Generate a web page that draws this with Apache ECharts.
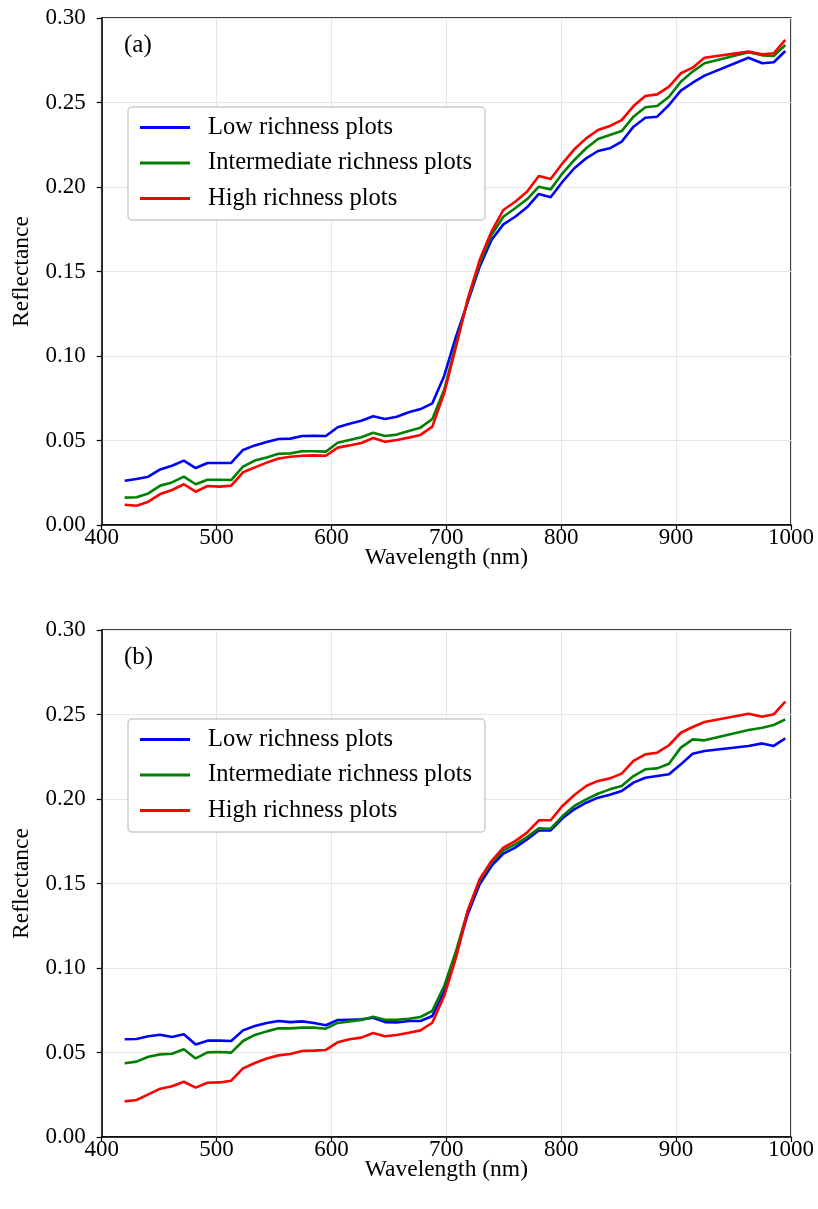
<!DOCTYPE html>
<html lang="en">
<head>
    <meta charset="UTF-8">
    <title>Reflectance by richness</title>
    <script src="https://cdn.jsdelivr.net/npm/echarts@6/dist/echarts.min.js"></script>
    <style>
        html, body { margin: 0; padding: 0; background: #fff; }
        #main { width: 818px; height: 1209px; }
    </style>
</head>
<body>
<div id="main"></div>
<script>
    // wavelengths (nm)
    var wavelength = [420, 430.3, 440.6, 450.9, 461.2, 471.5, 481.8, 492.1, 502.4, 512.7,
        523, 533.3, 543.6, 553.9, 564.2, 574.5, 584.8, 595.1, 605.4, 615.7,
        626, 636.3, 646.6, 656.9, 667.2, 677.5, 687.8, 698.1, 708.4, 718.7,
        729, 739.3, 749.6, 759.9, 770.2, 780.5, 790.8, 801.1, 811.4, 821.7,
        832, 842.3, 852.6, 862.9, 873.2, 883.5, 893.8, 904.1, 914.4, 924.7,
        963, 975, 985, 995];

    var seriesNames = ['Low richness plots', 'Intermediate richness plots', 'High richness plots'];
    var seriesColors = ['#0000ff', '#008000', '#ff0000'];

    // panel (a)
    var lowA = [0.0262, 0.0272, 0.0286, 0.0329, 0.0351, 0.0381, 0.0337, 0.0367, 0.0367, 0.0367,
        0.0444, 0.0471, 0.0491, 0.0509, 0.0511, 0.0527, 0.0528, 0.0527, 0.0578, 0.0599,
        0.0617, 0.0643, 0.0627, 0.0641, 0.0667, 0.0686, 0.0720, 0.0882, 0.1114, 0.1320,
        0.1528, 0.1686, 0.1779, 0.1824, 0.1880, 0.1959, 0.1939, 0.2031, 0.2111, 0.2170,
        0.2213, 0.2229, 0.2268, 0.2357, 0.2410, 0.2416, 0.2485, 0.2570, 0.2617, 0.2659,
        0.2765, 0.2732, 0.2738, 0.2805];
    var midA = [0.0162, 0.0164, 0.0187, 0.0233, 0.0252, 0.0286, 0.0241, 0.0268, 0.0268, 0.0266,
        0.0345, 0.0381, 0.0400, 0.0422, 0.0424, 0.0436, 0.0436, 0.0434, 0.0487, 0.0503,
        0.0519, 0.0546, 0.0527, 0.0535, 0.0556, 0.0576, 0.0627, 0.0800, 0.1070, 0.1330,
        0.1548, 0.1716, 0.1824, 0.1874, 0.1927, 0.2002, 0.1986, 0.2081, 0.2160, 0.2229,
        0.2284, 0.2308, 0.2331, 0.2416, 0.2472, 0.2479, 0.2534, 0.2623, 0.2683, 0.2732,
        0.2797, 0.2779, 0.2775, 0.2840];
    var highA = [0.0120, 0.0114, 0.0138, 0.0183, 0.0207, 0.0241, 0.0197, 0.0231, 0.0227, 0.0233,
        0.0312, 0.0341, 0.0369, 0.0394, 0.0404, 0.0410, 0.0412, 0.0410, 0.0458, 0.0471,
        0.0485, 0.0515, 0.0493, 0.0503, 0.0517, 0.0533, 0.0582, 0.0780, 0.1055, 0.1340,
        0.1568, 0.1736, 0.1864, 0.1913, 0.1972, 0.2065, 0.2047, 0.2140, 0.2223, 0.2288,
        0.2337, 0.2361, 0.2396, 0.2479, 0.2538, 0.2548, 0.2594, 0.2673, 0.2706, 0.2765,
        0.2801, 0.2785, 0.2791, 0.2870];

    // panel (b)
    var lowB = [0.0578, 0.0580, 0.0596, 0.0605, 0.0592, 0.0608, 0.0548, 0.0570, 0.0570, 0.0568,
        0.0631, 0.0657, 0.0675, 0.0686, 0.0680, 0.0684, 0.0675, 0.0661, 0.0692, 0.0694,
        0.0696, 0.0706, 0.0680, 0.0678, 0.0686, 0.0686, 0.0716, 0.0864, 0.1081, 0.1320,
        0.1495, 0.1604, 0.1677, 0.1712, 0.1761, 0.1814, 0.1814, 0.1886, 0.1939, 0.1978,
        0.2008, 0.2025, 0.2047, 0.2097, 0.2126, 0.2136, 0.2146, 0.2205, 0.2268, 0.2284,
        0.2314, 0.2329, 0.2314, 0.2359];
    var midB = [0.0436, 0.0446, 0.0475, 0.0489, 0.0493, 0.0519, 0.0465, 0.0501, 0.0503, 0.0499,
        0.0568, 0.0604, 0.0625, 0.0643, 0.0643, 0.0647, 0.0647, 0.0641, 0.0675, 0.0684,
        0.0692, 0.0712, 0.0694, 0.0694, 0.0700, 0.0710, 0.0746, 0.0893, 0.1100, 0.1340,
        0.1515, 0.1623, 0.1696, 0.1732, 0.1775, 0.1826, 0.1824, 0.1899, 0.1959, 0.1998,
        0.2031, 0.2057, 0.2077, 0.2136, 0.2176, 0.2181, 0.2209, 0.2304, 0.2353, 0.2347,
        0.2408, 0.2422, 0.2438, 0.2471];
    var highB = [0.0211, 0.0219, 0.0252, 0.0286, 0.0300, 0.0327, 0.0292, 0.0321, 0.0323, 0.0333,
        0.0406, 0.0438, 0.0464, 0.0483, 0.0491, 0.0509, 0.0511, 0.0515, 0.0560, 0.0578,
        0.0588, 0.0615, 0.0596, 0.0604, 0.0617, 0.0631, 0.0676, 0.0834, 0.1061, 0.1340,
        0.1525, 0.1633, 0.1712, 0.1751, 0.1801, 0.1874, 0.1874, 0.1959, 0.2024, 0.2077,
        0.2107, 0.2122, 0.2150, 0.2225, 0.2264, 0.2274, 0.2318, 0.2392, 0.2426, 0.2456,
        0.2505, 0.2487, 0.2501, 0.2576];

    var yTicks = [0, 0.05, 0.10, 0.15, 0.20, 0.25, 0.30];
    var panelLabels = ['(a)', '(b)'];

    var font = '"Liberation Serif", "Times New Roman", serif';
    var gridTops = [18, 630];

    function pairs(vals) {
        var out = [];
        for (let i = 0; i < vals.length; i++) {
            out.push([wavelength[i], vals[i]]);
        }
        return out;
    }

    var grids = [], xAxes = [], yAxes = [], series = [], legends = [], titles = [];
    var panels = [[lowA, midA, highA], [lowB, midB, highB]];

    for (let p = 0; p < 2; p++) {
        grids.push({
            left: 101.7, right: 27, top: gridTops[p], height: 507,
            show: true, borderColor: '#000', borderWidth: 1.5, backgroundColor: '#fff'
        });
        xAxes.push({
            type: 'value', gridIndex: p, min: 400, max: 1000, interval: 100,
            name: 'Wavelength (nm)', nameLocation: 'middle', nameGap: 21, nameMoveOverlap: false,
            nameTextStyle: { fontFamily: font, fontSize: 23.5, color: '#000' },
            axisLine: { lineStyle: { color: '#000', width: 1.5 } },
            axisTick: { show: true, length: 5, lineStyle: { color: '#000', width: 1.2 } },
            axisLabel: {
                fontFamily: font, fontSize: 23, color: '#000', margin: 1,
                formatter: function (v) { return String(v); }
            },
            splitLine: { show: true, lineStyle: { color: '#e6e6e6', width: 1 } }
        });
        yAxes.push({
            type: 'value', gridIndex: p, min: yTicks[0], max: yTicks[yTicks.length - 1], interval: 0.05,
            name: 'Reflectance', nameLocation: 'middle', nameGap: 68, nameMoveOverlap: false,
            nameTextStyle: { fontFamily: font, fontSize: 23.5, color: '#000' },
            axisLine: { show: true, lineStyle: { color: '#000', width: 1.5 } },
            axisTick: { show: true, length: 5, lineStyle: { color: '#000', width: 1.2 } },
            axisLabel: {
                fontFamily: font, fontSize: 23, color: '#000', margin: 16,
                formatter: function (v) { return v.toFixed(2); }
            },
            splitLine: { show: true, lineStyle: { color: '#e6e6e6', width: 1 } }
        });
        for (let s = 0; s < 3; s++) {
            series.push({
                name: seriesNames[s], type: 'line', xAxisIndex: p, yAxisIndex: p,
                data: pairs(panels[p][s]), showSymbol: false, symbol: 'none',
                lineStyle: { color: seriesColors[s], width: 2.6 },
                itemStyle: { color: seriesColors[s] },
                z: 2 + s, animation: false
            });
        }
        legends.push({
            left: 128, top: gridTops[p] + 89, orient: 'vertical',
            data: seriesNames, icon: 'rect', itemWidth: 50, itemHeight: 3, itemGap: 10.5,
            textStyle: { fontFamily: font, fontSize: 24.5, color: '#000', padding: [0, 0, 0, 13] },
            backgroundColor: '#fff', borderColor: '#cccccc', borderWidth: 1.5, borderRadius: 4,
            padding: [8, 13, 9, 12]
        });
        titles.push({
            text: panelLabels[p], left: 119, top: gridTops[p] + 9.5,
            textStyle: { fontFamily: font, fontSize: 25, fontWeight: 'normal', color: '#000' }
        });
    }

    var chart = echarts.init(document.getElementById('main'));
    chart.setOption({
        animation: false,
        backgroundColor: '#fff',
        title: titles,
        legend: legends,
        grid: grids,
        xAxis: xAxes,
        yAxis: yAxes,
        series: series
    });
</script>
</body>
</html>
